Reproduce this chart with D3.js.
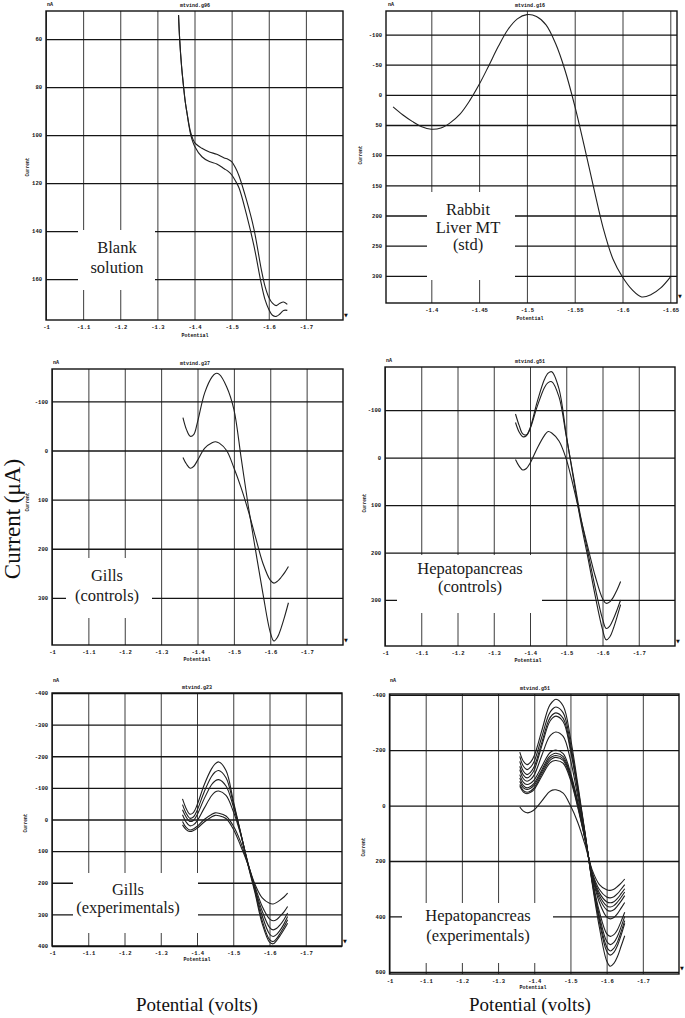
<!DOCTYPE html>
<html><head><meta charset="utf-8">
<script src="https://cdn.jsdelivr.net/npm/d3@7"></script>
<style>
body{margin:0;background:#fff;}
svg{display:block;}
</style></head><body>
<svg id="c" width="685" height="1018"></svg>
<script>
// ---------------- DATA ----------------
// tick labels
const xTicksWide = [-1, -1.1, -1.2, -1.3, -1.4, -1.5, -1.6, -1.7];
const xTicksRabbit = [-1.4, -1.45, -1.5, -1.55, -1.6, -1.65];
const yTicksBlank = [60, 80, 100, 120, 140, 160];
const yTicksRabbit = [-100, -50, 0, 50, 100, 150, 200, 250, 300];
const yTicksGillsCtrl = [-100, 0, 100, 200, 300];
const yTicksHepCtrl = [-100, 0, 100, 200, 300];
const yTicksGillsExp = [-400, -300, -200, -100, 0, 100, 200, 300, 400];
const yTicksHepExp = [-400, -200, 0, 200, 400, 600];

// Panel 1: blank solution (potential V, current nA)
const blankX = [-1.357, -1.36, -1.365, -1.37, -1.375, -1.38, -1.385, -1.39, -1.40, -1.42, -1.44, -1.46, -1.48, -1.49, -1.50, -1.51, -1.52, -1.54, -1.56, -1.58, -1.59, -1.60, -1.61, -1.62, -1.63, -1.64, -1.65];
const blankA = [50, 60, 71, 79, 86, 91, 95.5, 99, 103, 105.5, 107, 108, 109.5, 110, 111, 113.5, 117, 127, 139, 156, 163, 167.5, 170, 171, 170, 169.5, 170.5];
const blankB = [50, 60, 71, 79, 86, 91, 96, 100, 104.5, 109, 111, 112, 114, 115, 116.5, 119, 122, 133, 146, 162, 168.5, 172.5, 175, 175.5, 174.5, 173, 173];

// Panel 2: rabbit liver MT standard
const rabbitX = [-1.36, -1.37, -1.38, -1.39, -1.40, -1.41, -1.42, -1.43, -1.44, -1.45, -1.46, -1.47, -1.48, -1.49, -1.50, -1.51, -1.52, -1.53, -1.54, -1.55, -1.56, -1.57, -1.58, -1.59, -1.60, -1.61, -1.62, -1.63, -1.64, -1.65];
const rabbitY = [20, 33, 44, 53, 57, 55, 46, 32, 10, -17, -48, -80, -108, -126, -133, -130, -116, -85, -40, 18, 85, 155, 222, 272, 302, 323, 335, 331, 320, 302];

// Shared potential grid for the sample panels
const sampleX = [-1.36, -1.37, -1.38, -1.39, -1.40, -1.42, -1.44, -1.45, -1.46, -1.48, -1.50, -1.52, -1.54, -1.56, -1.58, -1.60, -1.61, -1.62, -1.63, -1.64, -1.65];

// Panel 3: gills (controls)
const gillsCtrl1 = [-67, -42, -29, -33, -58, -118, -150, -157, -155, -130, -84, 15, 115, 205, 292, 370, 388, 380, 361, 337, 310];
const gillsCtrl2 = [14, 28, 36, 32, 20, -5, -16, -18, -15, 0, 35, 76, 124, 178, 230, 264, 270, 266, 258, 248, 236];

// Panel 4: hepatopancreas (controls)
const hepCtrlA = [-92, -68, -50, -48, -62, -118, -165, -178, -181, -145, -48, 45, 135, 212, 292, 362, 384, 378, 360, 336, 310];
const hepCtrlB = [-74, -54, -44, -46, -60, -108, -148, -158, -160, -128, -45, 40, 126, 200, 275, 340, 360, 355, 340, 321, 300];
const hepCtrlC = [4, 18, 26, 23, 12, -20, -47, -55, -52, -35, 3, 62, 128, 190, 250, 297, 307, 304, 294, 279, 261];

// Panel 5: gills (experimentals)
const gillsExp1 = [-65, -35, -17, -22, -45, -110, -160, -176, -182, -155, -60, 40, 140, 232, 330, 388, 393, 382, 366, 348, 328];
const gillsExp2 = [-47, -20, -4, -8, -28, -88, -136, -150, -155, -132, -52, 40, 138, 226, 320, 380, 386, 376, 359, 340, 317];
const gillsExp3 = [-31, -8, 6, 3, -14, -66, -110, -122, -126, -106, -42, 42, 137, 222, 305, 362, 370, 363, 349, 330, 307];
const gillsExp4 = [-15, 8, 20, 17, 5, -36, -75, -87, -90, -76, -26, 45, 135, 218, 290, 341, 349, 344, 332, 316, 296];
const gillsExp5 = [6, 25, 33, 30, 22, 0, -16, -21, -20, -11, 20, 70, 140, 212, 275, 314, 320, 316, 305, 292, 275];
const gillsExp6 = [17, 32, 38, 35, 28, 8, -8, -13, -12, -3, 30, 82, 140, 205, 248, 265, 267, 262, 254, 245, 233];

// Panel 6: hepatopancreas (experimentals)
const hepExp1 = [-193, -160, -148, -157, -180, -267, -355, -375, -384, -360, -245, -80, 95, 280, 440, 560, 580, 570, 545, 508, 470];
const hepExp2 = [-178, -142, -130, -139, -160, -244, -328, -348, -356, -335, -225, -70, 97, 275, 420, 525, 540, 530, 505, 468, 425];
const hepExp3 = [-160, -124, -112, -121, -141, -224, -308, -328, -335, -315, -210, -62, 100, 272, 410, 510, 525, 515, 492, 455, 415];
const hepExp4 = [-142, -110, -100, -109, -129, -212, -296, -316, -323, -303, -200, -55, 102, 268, 398, 490, 502, 494, 472, 438, 400];
const hepExp5 = [-130, -97, -88, -95, -111, -178, -245, -260, -266, -250, -165, -35, 108, 262, 383, 462, 472, 466, 448, 418, 385];
const hepExp6 = [-112, -84, -76, -81, -93, -139, -186, -197, -201, -188, -120, -15, 112, 255, 350, 402, 409, 404, 390, 370, 350];
const hepExp7 = [-100, -72, -64, -69, -81, -127, -174, -185, -189, -177, -112, -10, 115, 250, 335, 376, 381, 376, 362, 345, 325];
const hepExp8 = [-88, -64, -58, -63, -74, -120, -166, -177, -181, -170, -107, -5, 117, 247, 325, 362, 366, 361, 348, 331, 312];
const hepExp9 = [-76, -54, -48, -53, -65, -112, -158, -170, -174, -163, -100, 0, 118, 244, 315, 347, 351, 347, 335, 318, 300];
const hepExp10 = [-70, -49, -43, -48, -59, -104, -149, -160, -163, -153, -93, 5, 120, 240, 303, 330, 333, 329, 318, 302, 285];
const hepExp11 = [5, 20, 26, 23, 15, -15, -48, -56, -57, -45, 0, 60, 140, 232, 285, 304, 306, 302, 292, 280, 265];

// ---------------- LAYOUT ----------------
const svg = d3.select('#c');
const MONO = '"Liberation Mono","DejaVu Sans Mono",monospace';
const SERIF = '"Liberation Serif","Times New Roman",serif';

const panels = [
  {left:46, right:343, top:11, bottom:320, xDomain:[-1,-1.8], yDomain:[48.3,177],
   xTicks:xTicksWide, yTicks:yTicksBlank, xs:blankX, series:[blankA, blankB],
   title:'mtvind.g96', titleX:195, nA:[47,6], pot:[195,337], cur:[29,167], mark:[346,317],
   box:{x:78,y:230,w:77,h:60,cx:117,lines:[['Blank',253],['solution',273]]}},
  {left:386, right:677, top:11, bottom:303, xDomain:[-1.3526,-1.657], yDomain:[-139,345],
   xTicks:xTicksRabbit, yTicks:yTicksRabbit, xs:rabbitX, series:[rabbitY],
   title:'mtvind.g16', titleX:530, nA:[388,6], pot:[530,320], cur:[362,155], mark:[680,298],
   box:{x:427,y:192,w:88,h:88,cx:468,lines:[['Rabbit',215],['Liver MT',232.5],['(std)',249.5]]}},
  {left:52, right:343, top:369, bottom:645, xDomain:[-1,-1.8], yDomain:[-166,396],
   xTicks:xTicksWide, yTicks:yTicksGillsCtrl, xs:sampleX, series:[gillsCtrl1, gillsCtrl2],
   title:'mtvind.g37', titleX:195, nA:[53,364], pot:[197,661], cur:[29,502], mark:[346,642],
   box:{x:66,y:558,w:86,h:60,cx:107,lines:[['Gills',581],['(controls)',601]]}},
  {left:385, right:675, top:367, bottom:646, xDomain:[-1,-1.8], yDomain:[-191,397],
   xTicks:xTicksWide, yTicks:yTicksHepCtrl, xs:sampleX, series:[hepCtrlA, hepCtrlB, hepCtrlC],
   title:'mtvind.g51', titleX:530, nA:[386,362], pot:[528,662], cur:[366,503], mark:[678,643],
   box:{x:397,y:555,w:145,h:58,cx:470,lines:[['Hepatopancreas',573.5],['(controls)',592]]}},
  {left:52, right:342, top:693, bottom:946, xDomain:[-1,-1.8], yDomain:[-400,400],
   xTicks:xTicksWide, yTicks:yTicksGillsExp, xs:sampleX,
   series:[gillsExp1, gillsExp2, gillsExp3, gillsExp4, gillsExp5, gillsExp6],
   title:'mtvind.g23', titleX:197, nA:[53,682], pot:[197,961], cur:[27,823], mark:[345,943],
   box:{x:73,y:873,w:125,h:60,cx:128,lines:[['Gills',895],['(experimentals)',913]]}},
  {left:389.5, right:679, top:694, bottom:974, xDomain:[-1,-1.8], yDomain:[-403,608],
   xTicks:xTicksWide, yTicks:yTicksHepExp, xs:sampleX,
   series:[hepExp1, hepExp2, hepExp3, hepExp4, hepExp5, hepExp6, hepExp7, hepExp8, hepExp9, hepExp10, hepExp11],
   title:'mtvind.g51', titleX:535, nA:[390,682], pot:[533,989], cur:[365,847], mark:[682,970],
   box:{x:402,y:903,w:151,h:60,cx:478,lines:[['Hepatopancreas',920.5],['(experimentals)',941]]}}
];

function drawPanel(o) {
  const x = d3.scaleLinear().domain(o.xDomain).range([o.left, o.right]);
  const y = d3.scaleLinear().domain(o.yDomain).range([o.top, o.bottom]);
  const w = o.right - o.left, h = o.bottom - o.top;
  const g = svg.append('g');

  const xa = g.append('g').attr('transform', `translate(0,${o.bottom})`)
    .call(d3.axisBottom(x).tickValues(o.xTicks).tickSize(-h).tickPadding(5).tickFormat(d => String(d)));
  xa.select('.domain').remove();
  xa.selectAll('line').attr('stroke', '#3c3c3c').attr('stroke-width', 1);
  xa.attr('font-family', MONO).attr('font-size', 5.5).attr('font-weight', 'bold');
  xa.selectAll('text').attr('fill', '#111');

  const ya = g.append('g').attr('transform', `translate(${o.left},0)`)
    .call(d3.axisLeft(y).tickValues(o.yTicks).tickSize(-w).tickPadding(4).tickFormat(d => String(d)));
  ya.select('.domain').remove();
  ya.selectAll('line').attr('stroke', '#151515').attr('stroke-width', 1.3);
  ya.attr('font-family', MONO).attr('font-size', 5.5).attr('font-weight', 'bold');
  ya.selectAll('text').attr('fill', '#111');

  const line = d3.line()
    .x((v, i) => x(o.xs[i]))
    .y(v => y(v))
    .curve(d3.curveCatmullRom.alpha(0.5));
  g.append('g').selectAll('path').data(o.series).join('path')
    .attr('d', line).attr('fill', 'none')
    .attr('stroke', '#202020').attr('stroke-width', 1.1);

  // label box masking the grid
  const b = o.box;
  g.append('rect').attr('x', b.x).attr('y', b.y).attr('width', b.w).attr('height', b.h).attr('fill', '#fff');
  g.selectAll('text.lbl').data(b.lines).join('text').attr('class', 'lbl')
    .attr('x', b.cx).attr('y', d => d[1]).attr('text-anchor', 'middle')
    .attr('font-family', SERIF).attr('font-size', 16.5).attr('fill', '#1a1a1a').text(d => d[0]);

  // frame
  g.append('rect').attr('x', o.left).attr('y', o.top).attr('width', w).attr('height', h)
    .attr('fill', 'none').attr('stroke', '#111').attr('stroke-width', 1.4);

  // small header / axis texts
  const small = (tx, ty, t, anchor) => g.append('text').attr('x', tx).attr('y', ty)
    .attr('text-anchor', anchor || 'middle').attr('font-family', MONO).attr('font-weight', 'bold')
    .attr('font-size', 5).attr('fill', '#111').text(t);
  small(o.titleX, o.top - 4.5, o.title);
  small(o.nA[0], o.nA[1], 'nA', 'start');
  small(o.pot[0], o.pot[1], 'Potential');
  g.append('text').attr('transform', `translate(${o.cur[0]},${o.cur[1]}) rotate(-90)`)
    .attr('text-anchor', 'middle').attr('font-family', MONO).attr('font-weight', 'bold')
    .attr('font-size', 4.5).attr('fill', '#111').text('Current');
  g.append('text').attr('x', o.mark[0]).attr('y', o.mark[1]).attr('text-anchor', 'middle')
    .attr('font-family', '"DejaVu Sans",sans-serif').attr('font-size', 5).attr('fill', '#111').text('▼');
}

panels.forEach(drawPanel);

// global axis titles
svg.append('text').attr('transform', 'translate(19.5,519) rotate(-90)')
  .attr('text-anchor', 'middle').attr('font-family', SERIF).attr('font-size', 23).attr('fill', '#111')
  .text('Current (μA)');
svg.append('text').attr('x', 197).attr('y', 1011).attr('text-anchor', 'middle')
  .attr('font-family', SERIF).attr('font-size', 19).attr('fill', '#111').text('Potential (volts)');
svg.append('text').attr('x', 530).attr('y', 1011).attr('text-anchor', 'middle')
  .attr('font-family', SERIF).attr('font-size', 19).attr('fill', '#111').text('Potential (volts)');
</script></body></html>
